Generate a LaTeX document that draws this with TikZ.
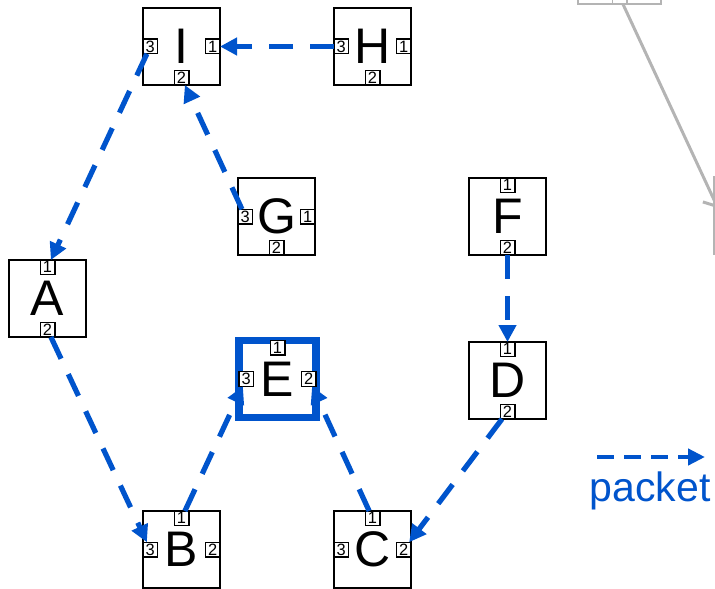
\documentclass[tikz,border=0pt]{standalone}
\usepackage{fontspec}
\setmainfont{Liberation Sans}
\usetikzlibrary{arrows.meta}
\definecolor{packetblue}{RGB}{0,84,204}
\definecolor{linkgray}{RGB}{180,180,180}
\tikzset{
  box/.style={draw, line width=1pt, minimum size=38.5pt, inner sep=0pt, outer sep=0pt, fill=white, font=\fontsize{25}{25}\selectfont},
  port/.style={draw, line width=0.7pt, minimum size=7.3pt, inner sep=0pt, outer sep=0pt, fill=white, font=\fontsize{8.2}{8.2}\selectfont},
  graybox/.style={draw=linkgray, line width=1pt, minimum size=38.5pt, inner sep=0pt, outer sep=0pt},
  grayport/.style={draw=linkgray, line width=0.7pt, minimum size=7.3pt, inner sep=0pt, outer sep=0pt},
  packet/.style={draw=packetblue, line width=2.6pt, dash pattern=on 12pt off 8.5pt, -{Triangle[length=8.5pt,width=8.5pt]}},
  legendpacket/.style={draw=packetblue, line width=2.4pt, dash pattern=on 8.5pt off 5pt, -{Triangle[length=8.5pt,width=8pt]}},
  graylink/.style={draw=linkgray, line width=1.5pt, -{Straight Barb[length=5pt,width=11pt]}}
}
\begin{document}
\begin{tikzpicture}[x=0.5pt, y=-0.5pt]
\useasboundingbox (0,0) rectangle (715,588);
\clip (0,0) rectangle (715,588);

\node [graybox, minimum width=41.5pt] (top) at (619.5,-34.5) {};
\node [grayport, anchor=south] (top2) at (top.south) {};
\node [graybox] (side) at (752.5,215.5) {};
\node [grayport, anchor=west] (side3) at (side.west) {};
\draw [graylink] (top2) -- (side3);

\node [box] (I) at (181.5,46.5) {I};
\node [box] (H) at (372.5,46.5) {H};
\node [box] (G) at (276.5,216.5) {G};
\node [box] (F) at (507.5,216.5) {F};
\node [box] (A) at (47.5,298.5) {A};
\node [box, draw=packetblue, line width=3.75pt] (E) at (277.5,379) {E};
\node [box] (D) at (507.5,380.5) {D};
\node [box] (B) at (181.5,549.5) {B};
\node [box] (C) at (372.5,549.5) {C};

\node [port, anchor=west] (I3) at (I.west) {3};
\node [port, anchor=east] (I1) at (I.east) {1};
\node [port, anchor=south] (I2) at (I.south) {2};
\node [port, anchor=west] (H3) at (H.west) {3};
\node [port, anchor=east] (H1) at (H.east) {1};
\node [port, anchor=south] (H2) at (H.south) {2};
\node [port, anchor=west] (G3) at (G.west) {3};
\node [port, anchor=east] (G1) at (G.east) {1};
\node [port, anchor=south] (G2) at (G.south) {2};
\node [port, anchor=north] (F1) at (F.north) {1};
\node [port, anchor=south] (F2) at (F.south) {2};
\node [port, anchor=north] (A1) at (A.north) {1};
\node [port, anchor=south] (A2) at (A.south) {2};
\node [port, anchor=north] (E1) at (E.north) {1};
\node [port, anchor=west] (E3) at (E.west) {3};
\node [port, anchor=east] (E2) at (E.east) {2};
\node [port, anchor=north] (D1) at (D.north) {1};
\node [port, anchor=south] (D2) at (D.south) {2};
\node [port, anchor=north] (B1) at (B.north) {1};
\node [port, anchor=west] (B3) at (B.west) {3};
\node [port, anchor=east] (B2) at (B.east) {2};
\node [port, anchor=north] (C1) at (C.north) {1};
\node [port, anchor=west] (C3) at (C.west) {3};
\node [port, anchor=east] (C2) at (C.east) {2};

\draw [packet] (H3) -- (I1);
\draw [packet] (I3) -- (A1);
\draw [packet] (G3) -- (I2);
\draw [packet] (A2) -- (B3);
\draw [packet] (B1) -- (E3);
\draw [packet] (C1) -- (E2);
\draw [packet] (F2) -- (D1);
\draw [packet] (D2) -- (C2);

\coordinate (legstart) at (597,457);
\coordinate (legend) at (705,457);
\draw [legendpacket] (legstart) -- (legend);
\node [text=packetblue, font=\fontsize{20.5}{20.5}\selectfont] (legtext) at (650,491) {packet};
\end{tikzpicture}
\end{document}
